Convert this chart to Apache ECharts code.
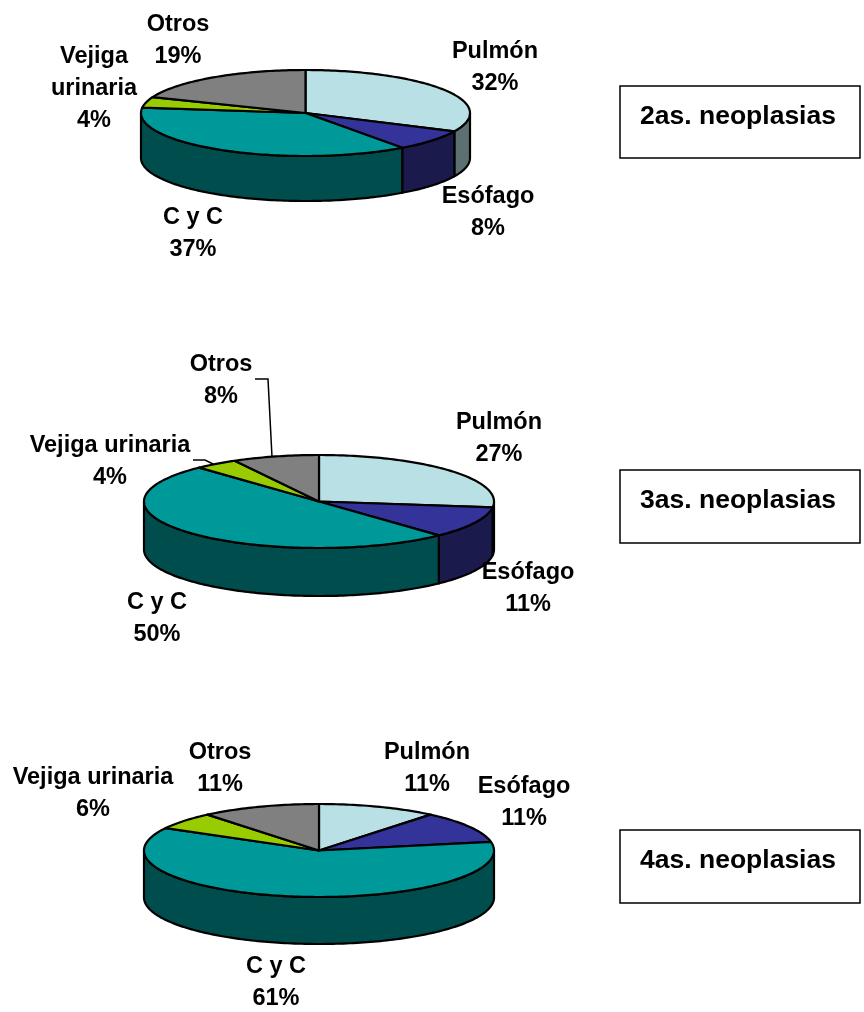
<!DOCTYPE html>
<html>
<head>
<meta charset="utf-8">
<style>html,body{margin:0;padding:0;background:#fff}#chart{width:864px;height:1012px}</style>
<script src="https://cdn.jsdelivr.net/npm/echarts@6/dist/echarts.min.js"></script>
</head>
<body>
<div id="chart"></div>
<script>
// Site of the second, third and fourth neoplasias (percent of cases)
const categories = ['Pulmón', 'Esófago', 'C y C', 'Vejiga urinaria', 'Otros'];
const segundas = [32, 8, 37, 4, 19];
const terceras = [27, 11, 50, 4, 8];
const cuartas = [11, 11, 61, 6, 11];
const titulos = ['2as. neoplasias', '3as. neoplasias', '4as. neoplasias'];

const topColors = ['#B9E0E4', '#333399', '#009999', '#99CC00', '#808080'];
const wallColors = ['#5C7072', '#1A1A4D', '#004D4D', '#4D6600', '#404040'];
const FONT = '"Liberation Sans", Arial, sans-serif';
const LABEL_SIZE = 23.5;
const EDGE = 2.2;

// Geometry of each tilted disc and where its labels sit
const pies = [
  { values: segundas, cx: 305.5, cy: 113, rx: 164.5, ry: 43, depth: 45,
    labelAt: [[495, 68], [488, 213], [193, 234], [94, 89], [178, 41]],
    wrap: { 3: 'Vejiga\nurinaria' }, leaders: [] },
  { values: terceras, cx: 319, cy: 501.5, rx: 175, ry: 46.5, depth: 48,
    labelAt: [[499, 439], [528, 589], [157, 619], [110, 462], [221, 381]],
    wrap: {}, leaders: [[[255, 379], [268, 379], [272, 457]], [[193, 460], [205, 460], [213, 464]]] },
  { values: cuartas, cx: 319, cy: 850.5, rx: 175, ry: 46.5, depth: 47,
    labelAt: [[427, 769], [524, 803], [276, 983], [93, 794], [220, 769]],
    wrap: {}, leaders: [] }
];
const boxes = [
  { x: 620, y: 86, w: 240, h: 72, tx: 738, ty: 117 },
  { x: 620, y: 470, w: 240, h: 73, tx: 738, ty: 501 },
  { x: 620, y: 830, w: 240, h: 73, tx: 738, ty: 861 }
];

// Point on the rim; angles run clockwise from twelve o'clock
function rim(p, a, drop) {
  return [p.cx + p.rx * Math.sin(a), p.cy - p.ry * Math.cos(a) + (drop || 0)];
}
function arc(p, a0, a1, drop) {
  const n = Math.max(2, Math.ceil(Math.abs(a1 - a0) / 0.02));
  const pts = [];
  for (let i = 0; i <= n; i++) pts.push(rim(p, a0 + (a1 - a0) * i / n, drop));
  return pts;
}

function pieSeries(p) {
  const total = p.values.reduce((s, v) => s + v, 0);
  let running = 0;
  const rows = p.values.map((v, i) => {
    const row = [v, running, i];
    running += v;
    return row;
  });
  return {
    type: 'custom',
    coordinateSystem: 'none',
    silent: true,
    animation: false,
    data: rows,
    renderItem: function (params, api) {
      const v = api.value(0), before = api.value(1), i = api.value(2);
      const a0 = before / total * 2 * Math.PI;
      const a1 = (before + v) / total * 2 * Math.PI;
      const children = [];
      // Side wall: only the part of the slice facing the viewer
      const w0 = Math.max(a0, Math.PI / 2), w1 = Math.min(a1, Math.PI * 1.5);
      if (w1 > w0) {
        children.push({
          type: 'polygon', z2: 1,
          shape: { points: arc(p, w0, w1, 0).concat(arc(p, w1, w0, p.depth)) },
          style: { fill: wallColors[i], stroke: '#000', lineWidth: EDGE, lineJoin: 'round' }
        });
      }
      children.push({
        type: 'polygon', z2: 2,
        shape: { points: [[p.cx, p.cy]].concat(arc(p, a0, a1, 0)) },
        style: { fill: topColors[i], stroke: '#000', lineWidth: EDGE, lineJoin: 'round' }
      });
      const name = p.wrap[i] || categories[i];
      children.push({
        type: 'text', z2: 5,
        x: p.labelAt[i][0], y: p.labelAt[i][1],
        style: {
          text: name + '\n' + v + '%',
          font: 'bold ' + LABEL_SIZE + 'px ' + FONT,
          lineHeight: 32, fill: '#000',
          align: 'center', verticalAlign: 'middle'
        }
      });
      return { type: 'group', children: children };
    }
  };
}

// Title boxes and leader lines
const graphicElements = [];
boxes.forEach((b, k) => {
  graphicElements.push({
    type: 'rect', shape: { x: b.x, y: b.y, width: b.w, height: b.h },
    style: { fill: '#fff', stroke: '#000', lineWidth: 1.5 }, silent: true
  });
  graphicElements.push({
    type: 'text', x: b.tx, y: b.ty, silent: true,
    style: {
      text: titulos[k], font: 'bold 26.5px ' + FONT, fill: '#000',
      align: 'center', verticalAlign: 'middle'
    }
  });
});
pies.forEach(p => p.leaders.forEach(points => {
  graphicElements.push({
    type: 'polyline', shape: { points: points }, silent: true, z: 10,
    style: { fill: 'none', stroke: '#000', lineWidth: 1.5 }
  });
}));

const chart = echarts.init(document.getElementById('chart'), null, { renderer: 'canvas' });
chart.setOption({
  backgroundColor: '#fff',
  animation: false,
  tooltip: { show: false },
  series: pies.map(pieSeries),
  graphic: { elements: graphicElements }
});
</script>
</body>
</html>
